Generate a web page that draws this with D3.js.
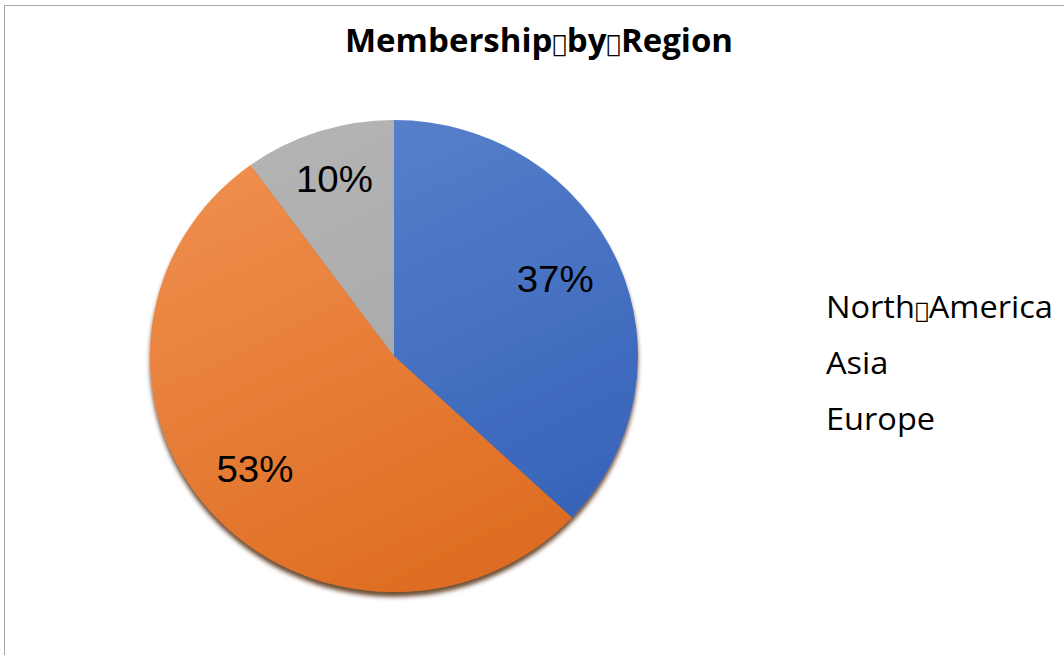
<!DOCTYPE html>
<html>
<head>
<meta charset="utf-8">
<script src="https://cdnjs.cloudflare.com/ajax/libs/d3/7.8.5/d3.min.js"></script>
<style>
  body { margin: 0; background: #fff; }
  svg { display: block; }
  .tofu { font-family: 'DejaVu Sans'; font-weight: normal; }
</style>
</head>
<body>
<svg id="chart" width="1064" height="655"></svg>
<script>
// data
var regions = ["North\uE000America", "Asia", "Europe"];
var shares = [37, 53, 10];
var chartTitle = "Membership\uE000by\uE000Region";

var cx = 394, cy = 356, rx = 244, ry = 236;

var svg = d3.select("#chart");

// outer frame (right and bottom edges run off the picture)
svg.append("rect")
    .attr("x", 4.5).attr("y", 5.5)
    .attr("width", 1200).attr("height", 800)
    .attr("fill", "#fff")
    .attr("stroke", "#a6a6a6");

var defs = svg.append("defs");

// soft shading like the office pie
var fills = [
    ["#5a82cd", "#3461b7"],
    ["#f08f4e", "#dc6a1e"],
    ["#b4b4b4", "#a2a2a2"]
];
fills.forEach(function(f, i) {
    var g = defs.append("linearGradient")
        .attr("id", "grad" + i)
        .attr("gradientUnits", "userSpaceOnUse")
        .attr("x1", -120).attr("y1", -rx)
        .attr("x2", 120).attr("y2", rx);
    g.append("stop").attr("offset", "0%").attr("stop-color", f[0]);
    g.append("stop").attr("offset", "100%").attr("stop-color", f[1]);
});

var shadow = defs.append("filter").attr("id", "shadow")
    .attr("x", "-10%").attr("y", "-10%").attr("width", "120%").attr("height", "125%");
shadow.append("feDropShadow")
    .attr("dx", 0).attr("dy", 5)
    .attr("stdDeviation", 2)
    .attr("flood-color", "#4a2206")
    .attr("flood-opacity", 0.8);

// splits a label so the odd separator glyph gets its own (smaller) font
function addText(sel, str, tofuSize) {
    str.split(/(\uE000)/).forEach(function(part) {
        if (!part) return;
        var t = sel.append("tspan").text(part);
        if (part === "\uE000") t.attr("class", "tofu").attr("font-size", tofuSize);
    });
}

// title
var title = svg.append("text")
    .attr("x", 539).attr("y", 52)
    .attr("text-anchor", "middle")
    .attr("font-family", "'Open Sans', sans-serif")
    .attr("font-weight", "bold")
    .attr("font-size", 33)
    .attr("fill", "#000");
addText(title, chartTitle, 24);

var pie = d3.pie().sort(null).value(function(d) { return d; });
var arcs = pie(shares);

var arc = d3.arc().innerRadius(0).outerRadius(rx);
var labelArc = d3.arc().innerRadius(180).outerRadius(180);

var pieG = svg.append("g")
    .attr("transform", "translate(" + cx + "," + cy + ") scale(1," + (ry / rx) + ")")
    .attr("filter", "url(#shadow)");

pieG.selectAll("path")
    .data(arcs)
    .enter().append("path")
    .attr("d", arc)
    .attr("fill", function(d, i) { return "url(#grad" + i + ")"; })
    .attr("stroke", "none");

// percentage labels
svg.append("g")
    .selectAll("text")
    .data(arcs)
    .enter().append("text")
    .attr("transform", function(d) {
        var c = labelArc.centroid(d);
        return "translate(" + (cx + c[0] - 4) + "," + (cy - 6 + c[1]) + ") scale(1.04,1)";
    })
    .attr("text-anchor", "middle")
    .attr("dy", "0.36em")
    .attr("font-family", "'Liberation Sans', Arial, sans-serif")
    .attr("font-size", 37)
    .attr("fill", "#000")
    .text(function(d) { return d.data + "%"; });

// legend, text only
var legendY = d3.scalePoint().domain(regions).range([318, 430]);
svg.append("g")
    .selectAll("text")
    .data(regions)
    .enter().append("text")
    .attr("transform", function(d) { return "translate(826," + legendY(d) + ") scale(1.05,1)"; })
    .attr("font-family", "'Open Sans', sans-serif")
    .attr("font-size", 31)
    .attr("fill", "#000")
    .each(function(d) { addText(d3.select(this), d, 22); });
</script>
</body>
</html>
